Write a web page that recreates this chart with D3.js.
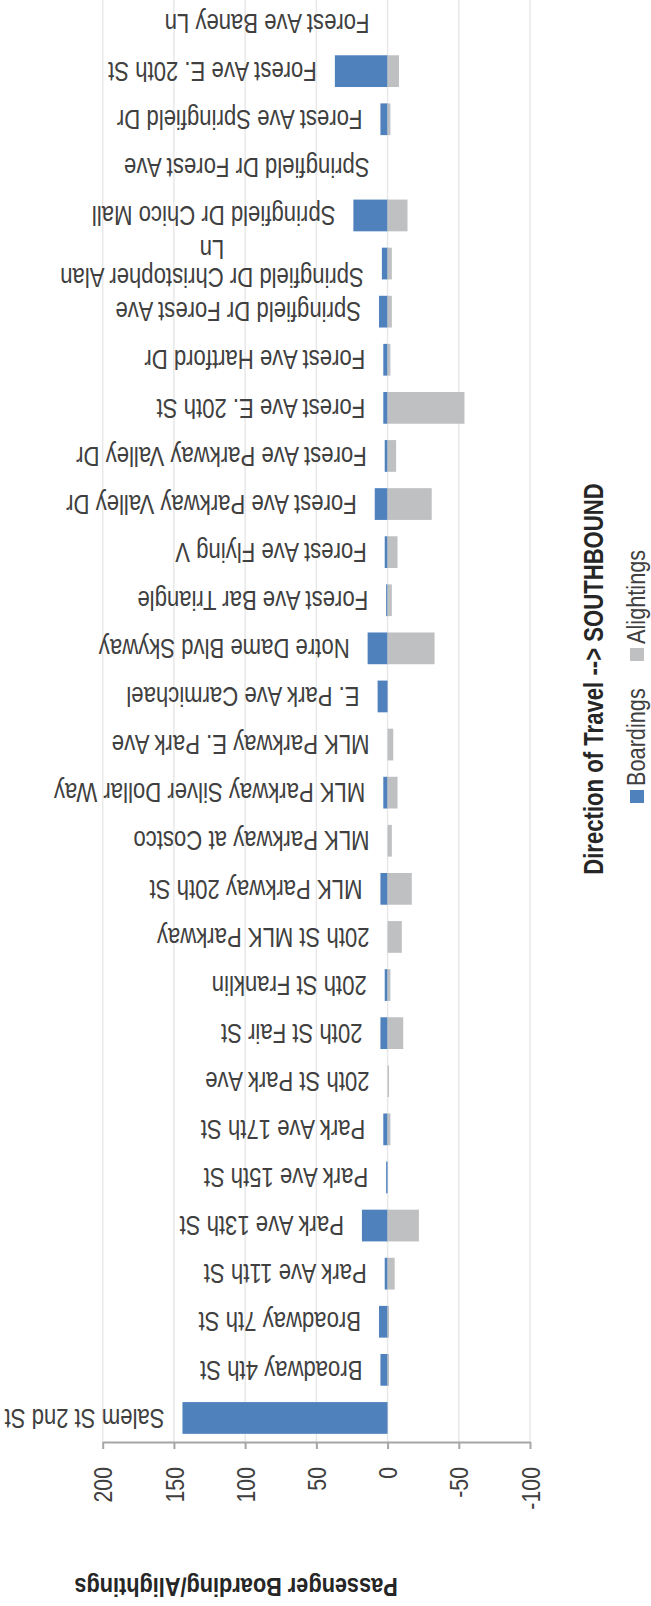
<!DOCTYPE html>
<html>
<head>
<meta charset="utf-8">
<script src="https://cdn.jsdelivr.net/npm/d3@7"></script>
<style>
  html, body { margin: 0; padding: 0; background: #fff; }
  svg text { font-family: "Liberation Sans Narrow", "Arial Narrow", "Liberation Sans", Arial, sans-serif; }
</style>
</head>
<body>
<svg id="chart"></svg>
<script>
// stops in route order (first stop is drawn at the bottom)
const stops = [
  "Salem St 2nd St", "Broadway 4th St", "Broadway 7th St", "Park Ave 11th St",
  "Park Ave 13th St", "Park Ave 15th St", "Park Ave 17th St", "20th St Park Ave",
  "20th St Fair St", "20th St Franklin", "20th St MLK Parkway", "MLK Parkway 20th St",
  "MLK Parkway at Costco", "MLK Parkway Silver Dollar Way", "MLK Parkway E. Park Ave",
  "E. Park Ave Carmichael", "Notre Dame Blvd Skyway", "Forest Ave Bar Triangle",
  "Forest Ave Flying V", "Forest Ave Parkway Valley Dr", "Forest Ave Parkway Valley Dr",
  "Forest Ave E. 20th St", "Forest Ave Hartford Dr", "Springfield Dr Forest Ave",
  "Springfield Dr Christopher Alan Ln", "Springfield Dr Chico Mall", "Springfield Dr Forest Ave",
  "Forest Ave Springfield Dr", "Forest Ave E. 20th St", "Forest Ave Baney Ln"
];
const boardings  = [144, 5, 6, 2, 18, 1, 3, 0, 5, 2, 0, 5, 0, 3, 0, 7, 14, 1, 2, 9, 2, 3, 3, 6, 4, 24, 0, 5, 37, 0];
const alightings = [0, -1, -1, -5, -22, 0, -2, -1, -11, -2, -10, -17, -3, -7, -4, 0, -33, -3, -7, -31, -6, -54, -2, -3, -3, -14, 0, -2, -8, 0];
const tickValues = [200, 150, 100, 50, 0, -50, -100];
const seriesNames = ["Boardings", "Alightings"];
const colors = ["#4f81bd", "#bfc0c2"];

const width = 651, height = 1606;
const plotTop = -1, plotBottom = 1442;
// no narrow font installed, so regular glyphs are squeezed to narrow proportions
const narrow = 0.82;

const svg = d3.select('#chart').attr('width', width).attr('height', height);

// the whole chart is shown turned upside down: values run from 200 (left) to -100 (right)
const x = d3.scaleLinear().domain([200, -100]).range([102.7, 530]);
const y = d3.scaleBand()
  .domain(d3.range(stops.length))
  .range([plotBottom, plotTop])
  .paddingInner(0.34)
  .paddingOuter(0.17);

// gridlines
svg.append('g').selectAll('line')
  .data(tickValues)
  .enter().append('line')
  .attr('x1', d => x(d)).attr('x2', d => x(d))
  .attr('y1', 0).attr('y2', plotBottom)
  .attr('stroke', '#e8e8e8')
  .attr('stroke-width', 1.5);

// boardings bars
svg.append('g').selectAll('rect')
  .data(boardings)
  .enter().append('rect')
  .attr('x', d => x(d))
  .attr('y', (d, i) => y(i))
  .attr('width', d => x(0) - x(d))
  .attr('height', y.bandwidth())
  .attr('fill', colors[0]);

// alightings bars
svg.append('g').selectAll('rect')
  .data(alightings)
  .enter().append('rect')
  .attr('x', x(0))
  .attr('y', (d, i) => y(i))
  .attr('width', d => x(d) - x(0))
  .attr('height', y.bandwidth())
  .attr('fill', colors[1]);

// value axis
const axis = svg.append('g')
  .attr('transform', `translate(0,${plotBottom})`)
  .call(d3.axisBottom(x).tickValues(tickValues).tickSize(7).tickSizeOuter(0).tickFormat(d => String(d)));
axis.select('.domain').attr('stroke', '#a6a6a6').attr('stroke-width', 2);
axis.selectAll('.tick line').attr('stroke', '#a6a6a6').attr('stroke-width', 2);
axis.selectAll('.tick text')
  .attr('transform', `rotate(-90) scale(${narrow},1)`)
  .attr('x', -25 / narrow)
  .attr('y', 0)
  .attr('dy', '0.35em')
  .attr('text-anchor', 'end')
  .attr('font-size', 26)
  .attr('fill', '#404040');

// stop labels, placed past the end of the boardings bar, wrapped when too long
const maxLabelWidth = 320;
const labels = svg.append('g').selectAll('g')
  .data(stops)
  .enter().append('g')
  .attr('transform', (d, i) => `translate(${x(boardings[i]) - 18},${y(i) + y.bandwidth() / 2}) rotate(180) scale(${narrow},1)`);

labels.each(function(name) {
  const t = d3.select(this).append('text')
    .attr('font-size', 27)
    .attr('fill', '#404040')
    .attr('dominant-baseline', 'central');
  const words = name.split(' ');
  const lines = [[]];
  const probe = t.append('tspan');
  words.forEach(w => {
    const cur = lines[lines.length - 1];
    probe.text(cur.concat(w).join(' '));
    if (cur.length && probe.node().getComputedTextLength() * narrow > maxLabelWidth) lines.push([w]);
    else cur.push(w);
  });
  probe.remove();
  if (lines.length === 1) {
    t.text(name);
  } else {
    // wrapped lines are centred on the first line
    t.attr('text-anchor', 'middle');
    const lineH = 28;
    const tmp = t.append('tspan').text(lines[0].join(' '));
    const w1 = tmp.node().getComputedTextLength();
    tmp.remove();
    lines.forEach((ln, k) => {
      t.append('tspan')
        .attr('x', w1 / 2)
        .attr('y', (k - (lines.length - 1) / 2) * lineH)
        .text(ln.join(' '));
    });
  }
});

// axis title
svg.append('text')
  .attr('transform', `translate(236,1587) rotate(180) scale(${narrow},1)`)
  .attr('text-anchor', 'middle')
  .attr('dominant-baseline', 'central')
  .attr('font-size', 26.5)
  .attr('font-weight', 'bold')
  .attr('fill', '#262626')
  .text('Passenger Boarding/Alightings');

// chart title (reads bottom to top)
svg.append('text')
  .attr('transform', `translate(603,679) rotate(-90) scale(${narrow},1)`)
  .attr('text-anchor', 'middle')
  .attr('font-size', 27)
  .attr('font-weight', 'bold')
  .attr('fill', '#262626')
  .text('Direction of Travel --> SOUTHBOUND');

// legend
const legendY = [797, 655];
seriesNames.forEach((name, i) => {
  svg.append('rect')
    .attr('x', 630).attr('y', legendY[i] - 7)
    .attr('width', 14).attr('height', 13)
    .attr('fill', colors[i]);
  svg.append('text')
    .attr('transform', `translate(645,${legendY[i] - 11}) rotate(-90) scale(${narrow},1)`)
    .attr('font-size', 26.5)
    .attr('fill', '#404040')
    .text(name);
});
</script>
</body>
</html>
